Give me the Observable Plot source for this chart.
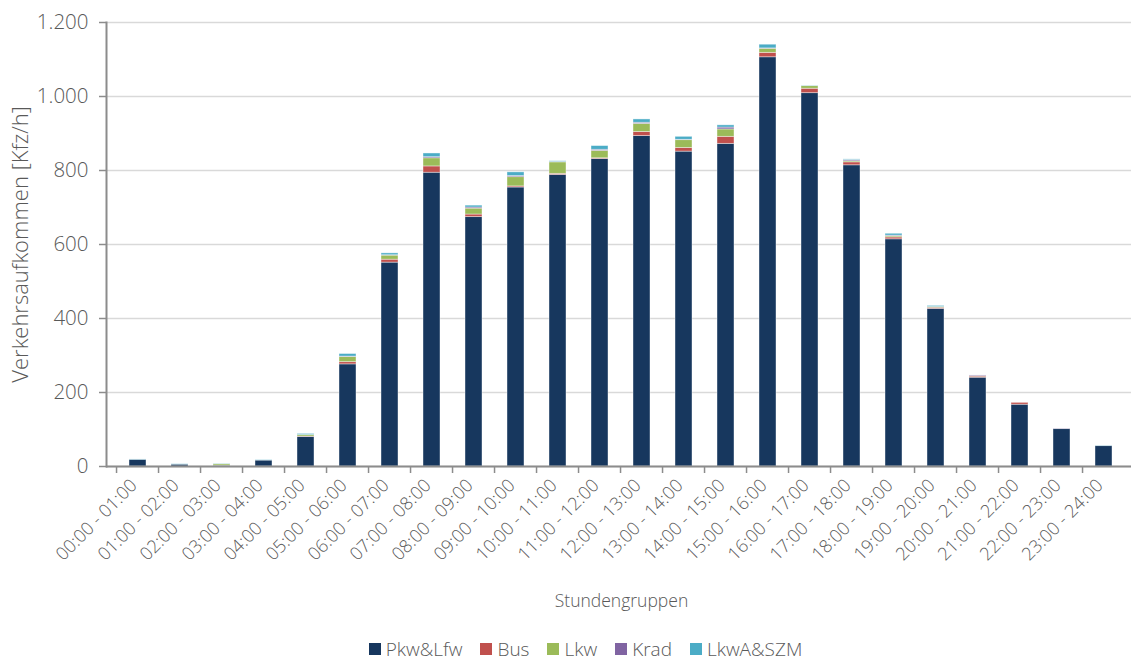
<!DOCTYPE html>
<html>
<head>
<meta charset="utf-8">
<script src="https://cdn.jsdelivr.net/npm/d3@7"></script>
<script src="https://cdn.jsdelivr.net/npm/@observablehq/plot@0.6"></script>
<style>
  html, body { margin: 0; padding: 0; background: #fff; }
  body { width: 1131px; height: 660px; overflow: hidden; font-family: "Open Sans", sans-serif; font-weight: 300; color: #595959; }
  #chart svg { display: block; }
  #legend { display: flex; justify-content: center; align-items: center; font-size: 19px; margin-top: 14px; padding-left: 40px; }
  .item { display: flex; align-items: center; margin: 0 9px; }
  .sw { width: 12px; height: 12px; margin-right: 5px; display: inline-block; }
</style>
</head>
<body>
<div id="chart"></div>
<div id="legend"></div>
<script>
const categories = ["00:00 - 01:00","01:00 - 02:00","02:00 - 03:00","03:00 - 04:00","04:00 - 05:00","05:00 - 06:00","06:00 - 07:00","07:00 - 08:00","08:00 - 09:00","09:00 - 10:00","10:00 - 11:00","11:00 - 12:00","12:00 - 13:00","13:00 - 14:00","14:00 - 15:00","15:00 - 16:00","16:00 - 17:00","17:00 - 18:00","18:00 - 19:00","19:00 - 20:00","20:00 - 21:00","21:00 - 22:00","22:00 - 23:00","23:00 - 24:00"];
const seriesNames = ["Pkw&Lfw","Bus","Lkw","Krad","LkwA&SZM"];
const seriesColors = ["#17375E","#C0504D","#9BBB59","#8064A2","#4BACC6"];
const pkw  = [18, 5, 2, 16, 80, 276, 551, 794, 674, 754, 788, 831, 893, 851, 872, 1106, 1009, 814, 614, 426, 240, 167, 101, 55];
const bus  = [0, 0, 0, 0, 1, 6, 8, 17, 7, 3, 3, 2, 11, 10, 19, 12, 12, 8, 5, 3, 3, 5, 0, 0];
const lkw  = [0, 0, 4, 0, 4, 14, 11, 22, 16, 25, 31, 20, 22, 21, 20, 11, 7, 3, 3, 2, 1, 0, 0, 0];
const krad = [0, 0, 0, 0, 0, 1, 1, 3, 3, 3, 1, 3, 3, 1, 5, 1, 0, 3, 2, 0, 2, 0, 1, 0];
const lkwa = [1, 1, 1, 1, 3, 7, 5, 10, 5, 10, 2, 10, 9, 8, 6, 10, 1, 2, 5, 3, 0, 0, 0, 1];
const yTicks = [0, 200, 400, 600, 800, 1000, 1200];

const seriesValues = [pkw, bus, lkw, krad, lkwa];
const rows = [];
seriesNames.forEach((s, si) => {
  categories.forEach((c, ci) => rows.push({cat: c, series: s, value: seriesValues[si][ci]}));
});

const de = d3.formatLocale({decimal: ",", thousands: ".", grouping: [3], currency: ["", " €"]});
const fmt = de.format(",");

const W = 1131, H = 622, mL = 106, mR = -5, mT = 22, mB = 156;
const step = (W - mL - mR) / categories.length;
const pad = 0.59;

const plot = Plot.plot({
  width: W, height: H,
  marginLeft: mL, marginRight: mR, marginTop: mT, marginBottom: mB,
  style: {fontFamily: "'Open Sans', sans-serif", fontWeight: 300, fontSize: "16px", color: "#595959", overflow: "visible"},
  x: {domain: categories, paddingInner: pad, paddingOuter: pad / 2, label: null},
  y: {domain: [0, 1200], label: null},
  color: {domain: seriesNames, range: seriesColors},
  marks: [
    Plot.gridY(yTicks, {stroke: "#D9D9D9", strokeOpacity: 1, strokeWidth: 1.5}),
    Plot.barY(rows, Plot.stackY({order: seriesNames}, {x: "cat", y: "value", fill: "series", stroke: "#ffffff", strokeWidth: 0.8, strokeOpacity: 0.5})),
    Plot.ruleY([0], {stroke: "#8C8C8C", strokeWidth: 2}),
    Plot.frame({anchor: "left", stroke: "#8C8C8C", strokeWidth: 2}),
    Plot.ruleX(categories, {x: d => d, y1: 0, y2: 0, insetBottom: -7, dx: -step / 2, stroke: "#8C8C8C", strokeWidth: 1.5}),
    Plot.axisY(yTicks, {tickFormat: fmt, tickSize: 7, tickPadding: 11, stroke: "#8C8C8C", strokeWidth: 1.5, fontSize: 20.5, fill: "#595959", label: null}),
    Plot.axisY({tickSize: 0, text: null, fontSize: 22, fill: "#595959",
      label: "Verkehrsaufkommen [Kfz/h]", labelAnchor: "center", labelArrow: "none", labelOffset: 94}),
    Plot.axisX({tickSize: 0, tickPadding: 16, dx: -4, tickRotate: -45, fontSize: 18, fill: "#595959", label: null}),
    Plot.axisX({tickSize: 0, text: null, fontSize: 17.5, fill: "#595959",
      label: "Stundengruppen", labelAnchor: "center", labelArrow: "none", labelOffset: 140})
  ]
});
document.getElementById("chart").append(plot);

const leg = document.getElementById("legend");
seriesNames.forEach((s, i) => {
  const it = document.createElement("div");
  it.className = "item";
  const sw = document.createElement("span");
  sw.className = "sw";
  sw.style.background = seriesColors[i];
  const t = document.createElement("span");
  t.textContent = s;
  it.append(sw, t);
  leg.append(it);
});
</script>
</body>
</html>
